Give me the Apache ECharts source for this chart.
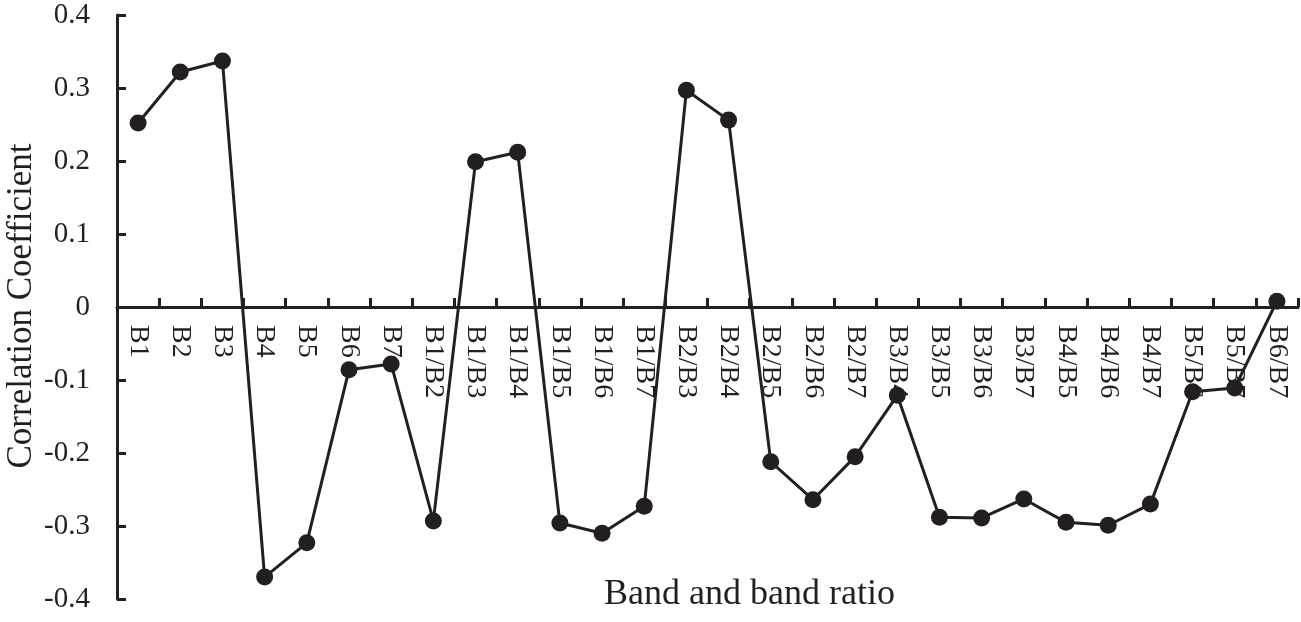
<!DOCTYPE html>
<html>
<head>
<meta charset="utf-8">
<script src="https://cdn.jsdelivr.net/npm/echarts@6/dist/echarts.min.js"></script>
<style>
  html, body { margin: 0; padding: 0; background: #fff; }
  #chart { width: 1301px; height: 622px; }
</style>
</head>
<body>
<div id="chart"></div>
<script>
const bands = [
  "B1", "B2", "B3", "B4", "B5", "B6", "B7",
  "B1/B2", "B1/B3", "B1/B4", "B1/B5", "B1/B6", "B1/B7",
  "B2/B3", "B2/B4", "B2/B5", "B2/B6", "B2/B7",
  "B3/B4", "B3/B5", "B3/B6", "B3/B7",
  "B4/B5", "B4/B6", "B4/B7",
  "B5/B6", "B5/B7", "B6/B7"
];
const correlation = [
  0.252, 0.322, 0.337, -0.370, -0.323, -0.086, -0.078,
  -0.293, 0.199, 0.212, -0.296, -0.310, -0.273,
  0.297, 0.256, -0.212, -0.264, -0.205,
  -0.121, -0.288, -0.289, -0.263,
  -0.295, -0.299, -0.270,
  -0.116, -0.111, 0.008
];

const chart = echarts.init(document.getElementById("chart"), null, { renderer: "canvas" });
const serif = "Liberation Serif";
const ink = "#231f20";

// plot grid: 0.4 at y=15, -0.4 at y=599, so zero sits at y=307
// second, flat grid carries the category axis along the zero line
const option = {
  animation: false,
  backgroundColor: "#fff",
  title: {
    text: "Band and band ratio",
    left: 604,
    top: 577,
    padding: 0,
    textStyle: { fontFamily: serif, fontSize: 36, fontWeight: "normal", color: ink },
  },
  // y axis title drawn by hand, the axis name kept getting pushed to the edge
  graphic: [
    {
      type: "text",
      x: 22,
      y: 306,
      rotation: Math.PI / 2,
      style: {
        text: "Correlation Coefficient",
        fontFamily: serif,
        fontSize: 35,
        fill: ink,
        textAlign: "center",
        textVerticalAlign: "middle",
      },
    },
  ],
  grid: [
    { left: 117, right: 3, top: 15, bottom: 23, outerBoundsMode: "none" },
    { left: 117, right: 3, top: 306, height: 1, outerBoundsMode: "none" },
  ],
  xAxis: [
    {
      gridIndex: 0,
      type: "category",
      data: bands,
      boundaryGap: true,
      show: false,
    },
    {
      gridIndex: 1,
      type: "category",
      data: bands,
      boundaryGap: true,
      axisLine: { onZero: false, lineStyle: { color: ink, width: 3 } },
      axisTick: { show: true, inside: true, length: 9, lineStyle: { color: ink, width: 3 } },
      axisLabel: {
        rotate: -90,
        interval: 0,
        margin: 18,
        fontFamily: serif,
        fontSize: 28,
        color: ink,
      },
      splitLine: { show: false },
    },
  ],
  yAxis: [
    {
      gridIndex: 0,
      type: "value",
      min: -0.4,
      max: 0.4,
      interval: 0.1,
      axisLine: { show: true, onZero: false, lineStyle: { color: ink, width: 3 } },
      axisTick: { show: true, inside: true, length: 9, lineStyle: { color: ink, width: 3 } },
      axisLabel: {
        margin: 27,
        fontFamily: serif,
        fontSize: 29,
        color: ink,
        formatter: (v) => (Math.abs(v) < 1e-9 ? "0" : v.toFixed(1)),
      },
      splitLine: { show: false },
    },
    {
      gridIndex: 1,
      type: "value",
      show: false,
    },
  ],
  series: [
    {
      type: "line",
      xAxisIndex: 0,
      yAxisIndex: 0,
      data: correlation,
      symbol: "circle",
      symbolSize: 17,
      itemStyle: { color: ink },
      lineStyle: { color: ink, width: 3 },
      z: 5,
    },
  ],
};

chart.setOption(option);
</script>
</body>
</html>
